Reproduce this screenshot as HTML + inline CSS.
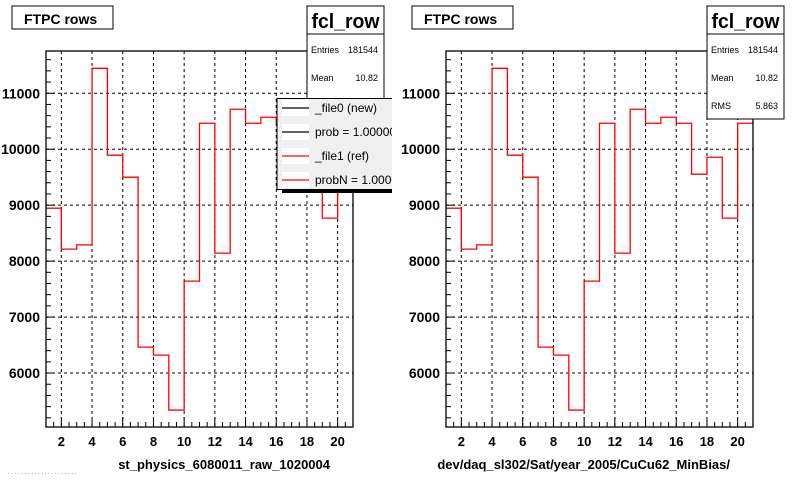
<!DOCTYPE html>
<html><head><meta charset="utf-8"><style>
body{margin:0;background:#fff}
svg{display:block;font-family:"Liberation Sans",sans-serif}
</style></head><body>
<svg id="c" width="800" height="480" viewBox="0 0 800 480">
<defs><clipPath id="lp"><rect x="0" y="0" width="392" height="480"/></clipPath></defs>
</svg>
<script>
const categories=[1,2,3,4,5,6,7,8,9,10,11,12,13,14,15,16,17,18,19,20];
const refValues=[8946,8214,8291,11446,9893,9500,6464,6321,5339,7643,10464,8143,10714,10464,10571,10464,9554,9857,8768,10464];
const yTicks=[6000,7000,8000,9000,10000,11000];
const xTicks=[2,4,6,8,10,12,14,16,18,20];
const xMin=1,xMax=21,yMin=5036,yMax=11755;
const titles=["st_physics_6080011_raw_1020004","dev/daq_sl302/Sat/year_2005/CuCu62_MinBias/"];
const svg=document.getElementById('c');
const NS='http://www.w3.org/2000/svg';
function mk(t,a,p){const e=document.createElementNS(NS,t);for(const k in a)e.setAttribute(k,a[k]);(p||svg).appendChild(e);return e;}
function panel(off,idx){
  const L=46+off,R=353+off,T=51,B=427;
  const g=mk('g',{});
  
  
  const sx=v=>L+(v-xMin)/(xMax-xMin)*(R-L);
  const sy=v=>B-(v-yMin)/(yMax-yMin)*(B-T);
  xTicks.forEach(v=>{const e=mk('line',{x1:sx(v),x2:sx(v),y1:T,y2:B,stroke:'#000','stroke-dasharray':'3,3','stroke-width':1},g);});
  yTicks.forEach(v=>{const e=mk('line',{x1:L,x2:R,y1:sy(v),y2:sy(v),stroke:'#000','stroke-dasharray':'3,3','stroke-width':1},g);});
  let d='';
  categories.forEach((c,i)=>{const x0=sx(c),x1=sx(c+1),y=sy(refValues[i]);d+=(i===0?'M':'L')+x0+','+y+'L'+x1+','+y;});
  const h=mk('path',{d:d,fill:'none',stroke:'#f00','stroke-width':1.3},g);
  
  
  const f=mk('rect',{x:L,y:T,width:R-L,height:B-T,fill:'none',stroke:'#000','stroke-width':1.3},g);
  
  
  for(let v=5200;v<=yMax;v+=200){const maj=v%1000===0;mk('line',{x1:L,x2:L+(maj?9:5),y1:sy(v),y2:sy(v),stroke:'#000'},g);}
  yTicks.forEach(v=>{const t=mk('text',{x:L-6,y:sy(v)+5,'text-anchor':'end','font-size':14,'font-weight':'bold'},g);t.textContent=v;});
  for(let v=1.5;v<xMax;v+=0.5){const maj=Math.abs(v-Math.round(v/2)*2)<1e-6;mk('line',{x1:sx(v),x2:sx(v),y1:B,y2:B-(maj?10:5),stroke:'#000'},g);}
  xTicks.forEach(v=>{const t=mk('text',{x:sx(v),y:B+19,'text-anchor':'middle','font-size':13,'font-weight':'bold'},g);t.textContent=v;});
  const xt=mk('text',{x:R-23,y:469,'text-anchor':'end','font-size':13,'font-weight':'bold'},g);
  xt.textContent=titles[idx];
  
  
  const tb=mk('rect',{x:12+off,y:6,width:101,height:23,fill:'#fff',stroke:'#000'},g);
  
  
  const tt=mk('text',{x:24+off,y:24,'font-size':14,'font-weight':'bold'},g);
  tt.textContent='FTPC rows';
  
  
  const sb=mk('rect',{x:307+off,y:6,width:77,height:113,fill:'#fff',stroke:'#000'},g);
  
  
  mk('line',{x1:307+off,x2:384+off,y1:34,y2:34,stroke:'#000'},g);
  const st=mk('text',{x:345.5+off,y:28,'text-anchor':'middle','font-size':20,'font-weight':'bold','textLength':68,'lengthAdjust':'spacingAndGlyphs'},g);
  st.textContent='fcl_row';
  
  
  [['Entries','181544',53],['Mean','10.82',81],['RMS','5.863',109]].forEach(r=>{
    const a=mk('text',{x:311+off,y:r[2],'font-size':9},g);a.textContent=r[0];
    const b=mk('text',{x:378+off,y:r[2],'text-anchor':'end','font-size':9},g);b.textContent=r[1];
  });
}
panel(0,0);panel(400,1);
const lg=mk('g',{'clip-path':'url(#lp)'});


mk('rect',{x:282,y:104,width:120,height:89,fill:'#000'},lg);
mk('rect',{x:277,y:98.5,width:120,height:91,fill:'#f0f0f0',stroke:'#000'},lg);
[['_file0 (new)','#000',108],['prob = 1.000000','#000',132],['_file1 (ref)','#f00',156],['probN = 1.000000','#f00',180]].forEach(r=>{
  mk('rect',{x:282,y:r[2]-8,width:27,height:16,fill:'#fff'},lg);
  const l=mk('line',{x1:282,x2:309,y1:r[2],y2:r[2],stroke:r[1],'stroke-width':1.3},lg);
  
  
  const t=mk('text',{x:315,y:r[2]+4,'font-size':12},lg);
  t.textContent=r[0];
  
  
});
const ft=mk('text',{x:8,y:474,'font-size':6,fill:'#444'});
ft.textContent='. . . . . . . . . . . . . . . . . . . . .';


</script>
</body></html>
